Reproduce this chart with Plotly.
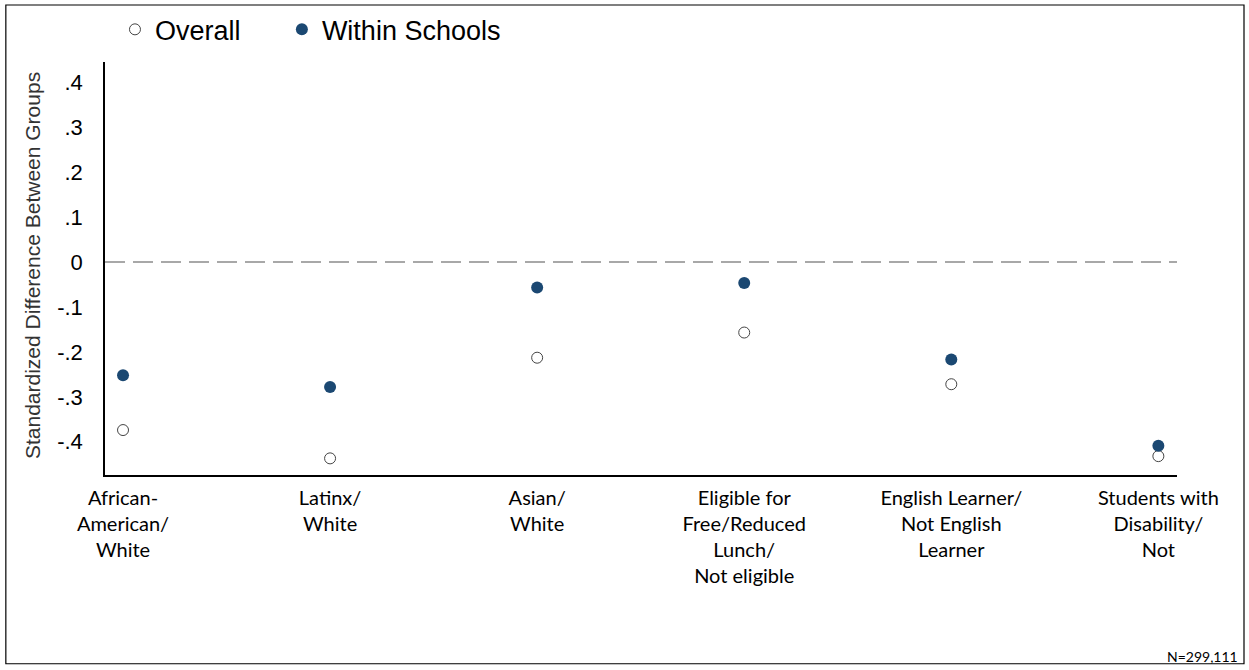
import plotly.graph_objects as go

categories = ["African-<br>American/<br>White", "Latinx/<br>White", "Asian/<br>White",
              "Eligible for<br>Free/Reduced<br>Lunch/<br>Not eligible",
              "English Learner/<br>Not English<br>Learner", "Students with<br>Disability/<br>Not"]
overall = [-0.374, -0.437, -0.213, -0.157, -0.272, -0.432]
within_schools = [-0.252, -0.278, -0.057, -0.047, -0.217, -0.409]
y_ticks = [-0.4, -0.3, -0.2, -0.1, 0, 0.1, 0.2, 0.3, 0.4]
y_tick_labels = ["-.4", "-.3", "-.2", "-.1", "0", ".1", ".2", ".3", ".4"]
x_idx = list(range(len(categories)))

fig = go.Figure()
fig.add_trace(go.Scatter(x=x_idx, y=overall, mode="markers", name="Overall", legend="legend",
                         marker=dict(symbol="circle", size=11, color="white",
                                     line=dict(color="#444444", width=1))))
fig.add_trace(go.Scatter(x=x_idx, y=within_schools, mode="markers", name="Within Schools",
                         legend="legend2",
                         marker=dict(symbol="circle", size=12, color="#1b4872",
                                     line=dict(color="#1b4872", width=0))))

fig.add_shape(type="line", xref="paper", x0=0, x1=1, yref="y", y0=0, y1=0,
              line=dict(color="#8c8c8c", width=1.5, dash="20px,8px"), layer="below")
fig.add_shape(type="rect", xref="paper", yref="paper", x0=-0.0925, x1=1.0625, y0=-0.457, y1=1.138,
              line=dict(color="black", width=1.2), fillcolor="rgba(0,0,0,0)")

fig.add_annotation(text="Standardized Difference Between Groups", textangle=-90,
                   xref="paper", yref="paper", x=0, y=0.506, xanchor="center", yanchor="middle",
                   xshift=-73, showarrow=False,
                   font=dict(family="Liberation Sans, Arial", size=21, color="#333333"))
fig.add_annotation(text="N=299,111", xref="paper", yref="paper", x=1.0585, y=-0.44,
                   xanchor="right", yanchor="middle", showarrow=False,
                   font=dict(family="Lato", size=14, color="black"))

legend_font = dict(family="Liberation Sans, Arial", size=27, color="black")
fig.update_layout(
    width=1249, height=670,
    margin=dict(l=105, r=72, t=62, b=195, autoexpand=False),
    paper_bgcolor="white", plot_bgcolor="white",
    showlegend=True,
    legend=dict(orientation="h", x=0.0093, y=1.078, xanchor="left", yanchor="middle",
                font=legend_font, bgcolor="rgba(0,0,0,0)"),
    legend2=dict(orientation="h", x=0.165, y=1.078, xanchor="left", yanchor="middle",
                 font=legend_font, bgcolor="rgba(0,0,0,0)"),
    xaxis=dict(range=[-0.087, 5.09], tickvals=x_idx, ticktext=categories,
               showline=True, linecolor="black", linewidth=1.5, showgrid=False, zeroline=False,
               ticks="", tickfont=dict(family="Lato", size=20, color="black"),
               ticklabelstandoff=4),
    yaxis=dict(range=[-0.474, 0.445], tickvals=y_ticks, ticktext=y_tick_labels,
               showline=True, linecolor="black", linewidth=1.5, showgrid=False, zeroline=False,
               ticks="", tickfont=dict(family="Liberation Sans, Arial", size=22, color="black"),
               ticklabelstandoff=16),
)

fig.write_html("out.html", config={"displayModeBar": False},
               post_script="document.body.style.margin='0';")
